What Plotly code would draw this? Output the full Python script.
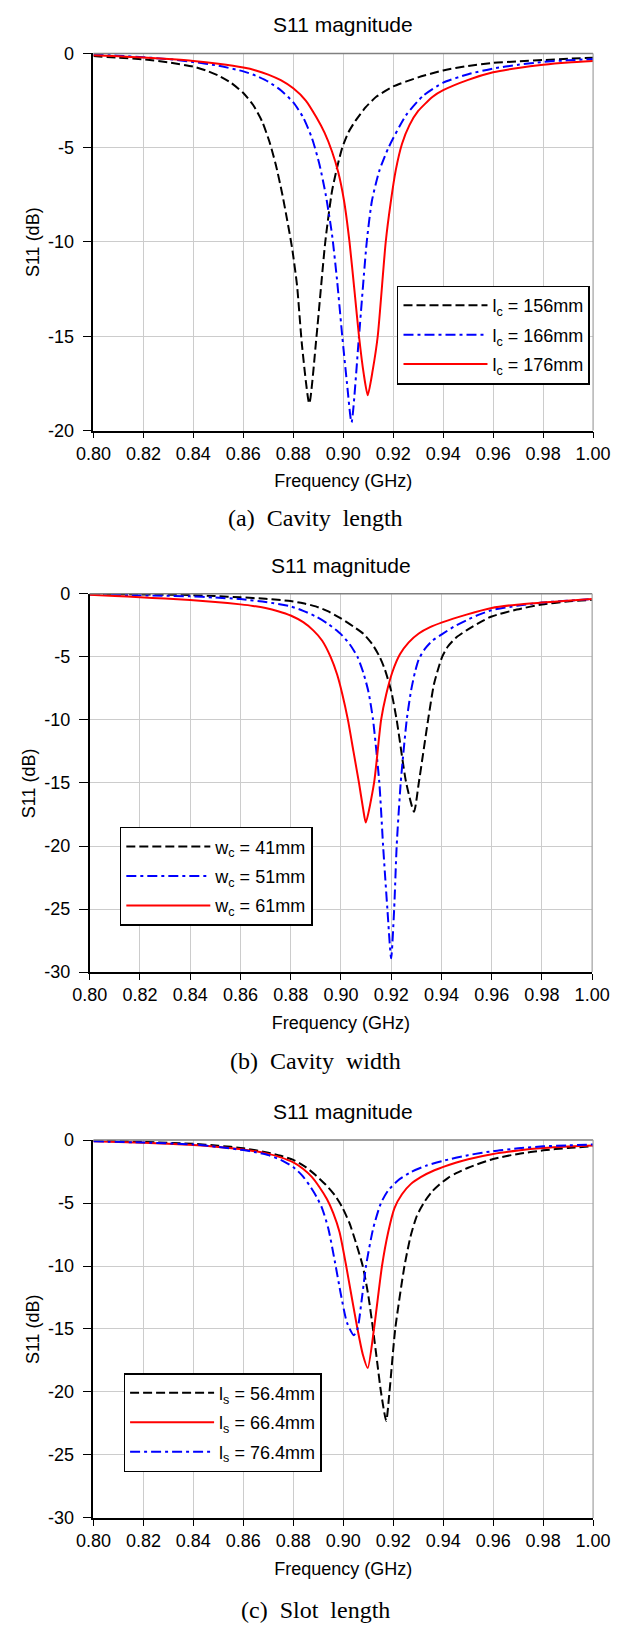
import plotly.graph_objects as go

# ---------------- data ----------------
# (a) Cavity length
lc156_f = [0.800, 0.810, 0.820, 0.830, 0.840, 0.845, 0.850, 0.855, 0.860, 0.864, 0.8675, 0.8705, 0.873, 0.8755, 0.8775, 0.8795, 0.8815, 0.8835, 0.8864,
           0.8893, 0.8928, 0.8955, 0.8978, 0.8996, 0.902, 0.905, 0.909, 0.9132, 0.920, 0.930, 0.940, 0.950, 0.960, 0.970, 0.980, 0.990, 1.000]
lc156_db = [-0.14, -0.22, -0.31, -0.47, -0.70, -0.90, -1.17, -1.55, -2.10, -2.75, -3.6, -4.7, -5.9, -7.4, -8.8, -10.3, -12.3, -15.5, -18.57,
            -15.0, -10.0, -7.3, -5.9, -5.0, -4.2, -3.55, -2.85, -2.3, -1.75, -1.27, -0.90, -0.66, -0.50, -0.42, -0.35, -0.28, -0.23]
lc166_f = [0.800, 0.810, 0.820, 0.830, 0.840, 0.850, 0.860, 0.865, 0.870, 0.875, 0.880, 0.884, 0.8875, 0.8905, 0.893, 0.8955, 0.8975, 0.8996, 0.9015, 0.9033,
           0.9063, 0.9094, 0.9115, 0.9145, 0.9181, 0.925, 0.932, 0.940, 0.950, 0.960, 0.970, 0.980, 0.990, 1.000]
lc166_db = [-0.05, -0.12, -0.20, -0.30, -0.45, -0.65, -0.95, -1.18, -1.50, -1.95, -2.6, -3.4, -4.5, -5.9, -7.5, -9.6, -12.0, -15.0, -17.5, -19.57,
            -15.0, -10.0, -7.8, -6.2, -5.0, -3.3, -2.24, -1.55, -1.10, -0.80, -0.60, -0.45, -0.36, -0.30]
lc176_f = [0.800, 0.810, 0.820, 0.830, 0.840, 0.850, 0.860, 0.865, 0.870, 0.875, 0.880, 0.885, 0.8893, 0.8925, 0.8955, 0.898, 0.9003, 0.9025, 0.9045, 0.9063, 0.9082, 0.9098,
           0.9118, 0.9138, 0.917, 0.919, 0.921, 0.9235, 0.9265, 0.930, 0.9358, 0.940, 0.950, 0.960, 0.970, 0.980, 0.990, 1.000]
lc176_db = [-0.10, -0.15, -0.22, -0.30, -0.40, -0.55, -0.75, -0.90, -1.12, -1.42, -1.85, -2.5, -3.4, -4.2, -5.2, -6.3, -7.8, -10.0, -12.6, -15.0, -17.0, -18.13,
            -16.8, -15.0, -10.0, -7.9, -6.2, -4.8, -3.8, -3.05, -2.3, -1.95, -1.40, -1.00, -0.77, -0.60, -0.48, -0.40]

# (b) Cavity width
wc41_f = [0.80, 0.82, 0.84, 0.85, 0.86, 0.87, 0.88, 0.885, 0.89, 0.895, 0.90, 0.905, 0.9091, 0.9125, 0.9153, 0.9175, 0.920, 0.9222, 0.926, 0.9291,
          0.931, 0.9347, 0.937, 0.9388, 0.9403, 0.9425, 0.946, 0.950, 0.955, 0.960, 0.970, 0.980, 0.990, 1.000]
wc41_db = [-0.02, -0.05, -0.10, -0.18, -0.28, -0.40, -0.58, -0.75, -1.0, -1.4, -1.95, -2.6, -3.2, -4.0, -4.95, -6.0, -7.7, -10.0, -15.0, -17.28,
           -15.0, -10.0, -7.2, -5.9, -5.0, -4.2, -3.45, -2.9, -2.3, -1.8, -1.25, -0.85, -0.62, -0.48]
wc51_f = [0.80, 0.82, 0.84, 0.85, 0.86, 0.87, 0.88, 0.885, 0.89, 0.895, 0.90, 0.9035, 0.9066, 0.909, 0.911, 0.9128, 0.9153, 0.9168, 0.9185, 0.920,
          0.9212, 0.9222, 0.9238, 0.9262, 0.928, 0.9295, 0.931, 0.9335, 0.9365, 0.9403, 0.945, 0.950, 0.955, 0.960, 0.970, 0.980, 0.990, 1.000]
wc51_db = [-0.05, -0.12, -0.20, -0.30, -0.42, -0.65, -1.0, -1.35, -1.8, -2.4, -3.2, -4.0, -5.0, -6.3, -7.8, -10.0, -15.0, -20.0, -25.0, -28.9,
           -25.0, -20.0, -15.0, -10.0, -7.6, -6.2, -5.2, -4.35, -3.7, -3.2, -2.6, -2.1, -1.65, -1.3, -0.95, -0.70, -0.55, -0.42]
wc61_f = [0.80, 0.81, 0.82, 0.83, 0.84, 0.85, 0.86, 0.865, 0.87, 0.875, 0.88, 0.885, 0.889, 0.8925, 0.8959, 0.8985, 0.9005, 0.9028, 0.905, 0.9072, 0.9088, 0.9099,
          0.9132, 0.916, 0.918, 0.9205, 0.9235, 0.927, 0.931, 0.9355, 0.9403, 0.950, 0.960, 0.970, 0.980, 0.990, 1.000]
wc61_db = [-0.08, -0.17, -0.28, -0.38, -0.50, -0.65, -0.84, -0.96, -1.13, -1.38, -1.72, -2.25, -2.9, -3.7, -5.0, -6.4, -7.9, -10.0, -12.5, -15.0, -17.0, -18.14,
           -15.0, -10.0, -8.0, -6.2, -4.8, -3.85, -3.15, -2.65, -2.27, -1.65, -1.12, -0.86, -0.70, -0.55, -0.42]

# (c) Slot length
ls56_f = [0.80, 0.82, 0.84, 0.85, 0.86, 0.87, 0.875, 0.88, 0.885, 0.889, 0.893, 0.8965, 0.8995, 0.9025, 0.905, 0.9078, 0.910, 0.9119, 0.9135, 0.9151, 0.9172,
          0.9185, 0.9208, 0.9245, 0.927, 0.9295, 0.9327, 0.9355, 0.9384, 0.942, 0.945, 0.950, 0.960, 0.970, 0.980, 0.990, 1.000]
ls56_db = [-0.05, -0.15, -0.30, -0.45, -0.65, -1.0, -1.25, -1.57, -2.15, -2.8, -3.55, -4.35, -5.3, -6.6, -8.1, -10.0, -12.3, -15.0, -17.5, -20.0, -22.3,
           -20.0, -15.0, -10.0, -7.6, -6.0, -4.85, -4.1, -3.55, -3.0, -2.65, -2.2, -1.5, -1.1, -0.82, -0.63, -0.50]
ls66_f = [0.80, 0.82, 0.84, 0.85, 0.86, 0.87, 0.875, 0.88, 0.884, 0.8875, 0.8905, 0.8935, 0.896, 0.8985, 0.9010, 0.9035, 0.9057, 0.9078, 0.9098,
          0.9123, 0.9155, 0.918, 0.9205, 0.9235, 0.927, 0.931, 0.9365, 0.945, 0.950, 0.960, 0.970, 0.980, 0.990, 1.000]
ls66_db = [-0.10, -0.22, -0.40, -0.55, -0.75, -1.10, -1.38, -1.78, -2.3, -2.95, -3.75, -4.7, -5.8, -7.3, -9.8, -12.6, -15.0, -17.0, -18.1,
           -15.0, -10.0, -7.3, -5.4, -4.3, -3.5, -2.95, -2.4, -1.8, -1.52, -1.1, -0.83, -0.64, -0.52, -0.43]
ls76_f = [0.80, 0.82, 0.84, 0.85, 0.86, 0.865, 0.87, 0.875, 0.88, 0.8835, 0.8865, 0.8893, 0.8915, 0.894, 0.8966, 0.899, 0.9015, 0.9042,
          0.9057, 0.9075, 0.9091, 0.912, 0.9151, 0.918, 0.922, 0.927, 0.933, 0.940, 0.950, 0.960, 0.970, 0.980, 0.990, 1.000]
ls76_db = [-0.10, -0.20, -0.35, -0.55, -0.80, -0.97, -1.2, -1.58, -2.15, -2.8, -3.6, -4.5, -5.4, -7.0, -9.6, -12.2, -14.5, -15.5,
           -15.0, -12.5, -10.0, -7.0, -5.0, -4.0, -3.2, -2.55, -2.05, -1.65, -1.2, -0.88, -0.66, -0.50, -0.42, -0.35]

x_tick_vals = [0.80, 0.82, 0.84, 0.86, 0.88, 0.90, 0.92, 0.94, 0.96, 0.98, 1.00]
ya_tick_vals = [0, -5, -10, -15, -20]
ya_tick_text = ["0", "-5", "-10", "-15", "-20"]
yb_tick_vals = [0, -5, -10, -15, -20, -25, -30]
yb_tick_text = ["0", "-5", "-10", "-15", "-20", "-25", "-30"]

panel_titles = ["S11 magnitude", "S11 magnitude", "S11 magnitude"]
captions = ["(a)\u00a0 Cavity\u00a0 length", "(b)\u00a0 Cavity\u00a0 width", "(c)\u00a0 Slot\u00a0 length"]
x_title = "Frequency (GHz)"
y_title = "S11 (dB)"

# ---------------- style ----------------
W, H = 629, 1638
SANS = "Arial, 'Liberation Sans', sans-serif"
SERIF = "'Times New Roman', 'Liberation Serif', serif"
DASH = "9px,4px"
DASHDOT = "10px,4px,3px,4px"
BLACK, BLUE, RED = "#000000", "#0000ff", "#ff0000"

def py(px):
    return 1 - px / H

# panel geometry in pixels: (left, right, top, bottom)
geo = [(80, 610, 44, 425.7), (76, 609, 591, 974), (80, 610, 1144, 1526.6)]
ytitle_x = [16, 12, 16]
cap_px = [514, 1064, 1620]
leg_pos = [(402, 279), (108, 827), (112, 1380)]

fig = go.Figure()

series = [
    (1, lc156_f, lc156_db, "l<sub>c</sub> = 156mm", BLACK, DASH, "legend"),
    (1, lc166_f, lc166_db, "l<sub>c</sub> = 166mm", BLUE, DASHDOT, "legend"),
    (1, lc176_f, lc176_db, "l<sub>c</sub> = 176mm", RED, "solid", "legend"),
    (2, wc41_f, wc41_db, "w<sub>c</sub> = 41mm", BLACK, DASH, "legend2"),
    (2, wc51_f, wc51_db, "w<sub>c</sub> = 51mm", BLUE, DASHDOT, "legend2"),
    (2, wc61_f, wc61_db, "w<sub>c</sub> = 61mm", RED, "solid", "legend2"),
    (3, ls56_f, ls56_db, "l<sub>s</sub> = 56.4mm", BLACK, DASH, "legend3"),
    (3, ls66_f, ls66_db, "l<sub>s</sub> = 66.4mm", RED, "solid", "legend3"),
    (3, ls76_f, ls76_db, "l<sub>s</sub> = 76.4mm", BLUE, DASHDOT, "legend3"),
]
for k, (p, f, db, name, col, dash, leg) in enumerate(series):
    sfx = "" if p == 1 else str(p)
    fig.add_trace(go.Scatter(
        x=f, y=db, mode="lines", name=name, legend=leg, legendgroup="g%d" % k,
        xaxis="x" + sfx, yaxis="y" + sfx,
        line=dict(color=col, width=2, dash=dash, shape="spline", smoothing=0.6),
    ))

layout = dict(
    width=W, height=H, autosize=False,
    margin=dict(l=0, r=0, t=0, b=0),
    paper_bgcolor="white", plot_bgcolor="white",
    font=dict(family=SANS, size=17, color="#000000"),
    annotations=[], shapes=[],
)

for i, (l, r, t, b) in enumerate(geo):
    sfx = "" if i == 0 else str(i + 1)
    yv, yt = (ya_tick_vals, ya_tick_text) if i == 0 else (yb_tick_vals, yb_tick_text)
    yr = [-20, 0] if i == 0 else [-30, 0]
    layout["xaxis" + sfx] = dict(
        domain=[l / W, r / W], anchor="y" + sfx, range=[0.8, 1.0],
        tickvals=x_tick_vals, tickformat=".2f",
        showgrid=True, gridcolor="#cccccc", gridwidth=1.2, zeroline=False,
        showline=True, linecolor="#000000", linewidth=1.5,
        ticks="outside", ticklen=6, tickwidth=1.2, tickcolor="#000000",
        tickfont=dict(size=18, family=SANS),
        title=dict(text=x_title, font=dict(size=18, family=SANS), standoff=12),
        fixedrange=True,
    )
    layout["yaxis" + sfx] = dict(
        domain=[py(b), py(t)], anchor="x" + sfx, range=yr,
        tickvals=yv, ticktext=yt,
        showgrid=True, gridcolor="#cccccc", gridwidth=1.2, zeroline=False,
        showline=True, linecolor="#000000", linewidth=1.5,
        ticks="outside", ticklen=9, tickwidth=1.2, tickcolor="#000000",
        tickfont=dict(size=18, family=SANS), ticklabelstandoff=5,
        fixedrange=True,
    )
    # y-axis title
    layout["annotations"].append(dict(
        text=y_title, textangle=-90, x=ytitle_x[i] / W, y=py((t + b) / 2), xref="paper", yref="paper",
        xanchor="center", yanchor="middle", showarrow=False,
        font=dict(size=18, family=SANS, color="#000000")))
    # frame: top and right edges (gray)
    layout["shapes"].append(dict(type="line", xref="x" + sfx + " domain", yref="y" + sfx + " domain",
                                 x0=0, x1=1, y0=1, y1=1, line=dict(color="#808080", width=1.5)))
    layout["shapes"].append(dict(type="line", xref="x" + sfx + " domain", yref="y" + sfx + " domain",
                                 x0=1, x1=1, y0=0, y1=1, line=dict(color="#a0a0a0", width=1.2)))
    # panel title
    layout["annotations"].append(dict(
        text=panel_titles[i], x=(l + r) / 2 / W, y=py(t - 29), xref="paper", yref="paper",
        xanchor="center", yanchor="middle", showarrow=False,
        font=dict(size=21, family=SANS, color="#000000")))
    # caption
    layout["annotations"].append(dict(
        text=captions[i], x=316 / W, y=py(cap_px[i]), xref="paper", yref="paper",
        xanchor="center", yanchor="middle", showarrow=False,
        font=dict(size=24, family=SERIF, color="#000000")))
    # legend
    lx, ly = leg_pos[i]
    layout["legend" if i == 0 else "legend" + str(i + 1)] = dict(
        x=lx / W, y=py(ly), xanchor="left", yanchor="top", xref="paper", yref="paper",
        bgcolor="white", bordercolor="#000000", borderwidth=1.5,
        font=dict(size=18, family=SANS, color="#000000"),
        itemwidth=84, tracegroupgap=3,
    )

fig.update_layout(**layout)
fig.write_html("out.html")
